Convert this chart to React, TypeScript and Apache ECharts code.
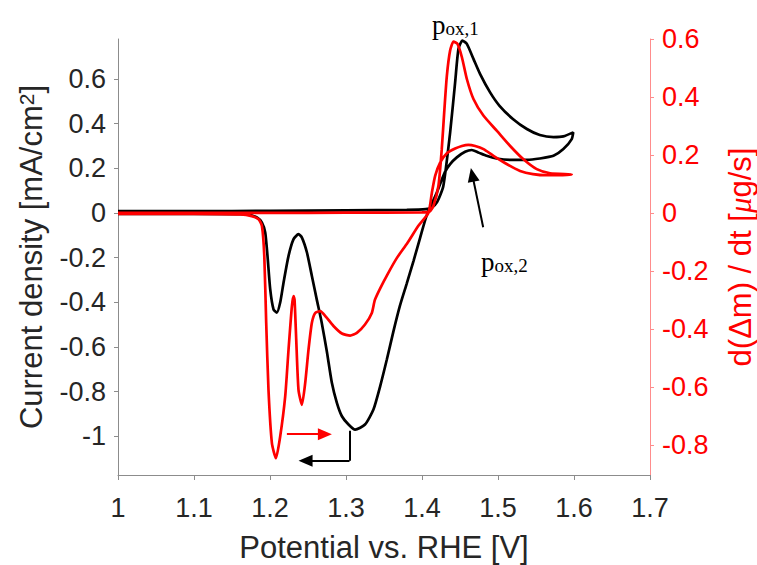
import React, { useEffect, useRef } from "react";
import * as echarts from "echarts";

// Potential (V vs RHE) and current density (mA/cm2) – black CV, forward sweep
const currentForward: [number, number][] = [
  [1.0, 0.008], [1.1, 0.008], [1.2, 0.01], [1.3, 0.012], [1.38, 0.014], [1.405, 0.017],
  [1.413, 0.025], [1.42, 0.05], [1.428, 0.12], [1.437, 0.36], [1.4436, 0.585], [1.448, 0.735],
  [1.4532, 0.772], [1.459, 0.757], [1.4677, 0.69], [1.4765, 0.622], [1.4896, 0.54], [1.502, 0.48],
  [1.52, 0.42], [1.538, 0.376], [1.555, 0.349], [1.573, 0.34], [1.586, 0.343], [1.599, 0.361],
];
// black CV, backward sweep
const currentBackward: [number, number][] = [
  [1.599, 0.361], [1.597, 0.331], [1.586, 0.286], [1.573, 0.256], [1.555, 0.244], [1.538, 0.238],
  [1.516, 0.238], [1.498, 0.244], [1.485, 0.256], [1.474, 0.271], [1.4655, 0.282], [1.4567, 0.274],
  [1.4458, 0.249], [1.437, 0.219], [1.43, 0.182], [1.4195, 0.092], [1.406, -0.013], [1.3976, -0.11],
  [1.3888, -0.215], [1.38, -0.315], [1.371, -0.415], [1.3624, -0.53], [1.3538, -0.655], [1.345, -0.775],
  [1.3361, -0.88], [1.325, -0.947], [1.312, -0.97], [1.3033, -0.947], [1.2946, -0.91], [1.288, -0.85],
  [1.2814, -0.76], [1.2748, -0.62], [1.268, -0.49], [1.2617, -0.39], [1.2551, -0.282], [1.2486, -0.177],
  [1.242, -0.11], [1.2375, -0.095], [1.231, -0.117], [1.2244, -0.192], [1.2178, -0.312], [1.2134, -0.401],
  [1.209, -0.446], [1.2046, -0.431], [1.2003, -0.342], [1.1967, -0.192], [1.1937, -0.087], [1.1894, -0.043],
  [1.1828, -0.02], [1.1696, -0.005], [1.1, -0.004], [1.0, -0.004],
];
// d(Δm)/dt (µg/s) – red, forward sweep
const massRateForward: [number, number][] = [
  [1.0, 0.0], [1.1, 0.0], [1.2, 0.0], [1.3, 0.001], [1.4, 0.002], [1.41, 0.005], [1.415, 0.024],
  [1.4216, 0.093], [1.426, 0.22], [1.4295, 0.358], [1.4327, 0.473], [1.437, 0.56], [1.4415, 0.591],
  [1.4467, 0.583], [1.4525, 0.537], [1.459, 0.462], [1.4677, 0.393], [1.481, 0.335], [1.4986, 0.283],
  [1.516, 0.231], [1.5335, 0.185], [1.551, 0.151], [1.5685, 0.137], [1.597, 0.133],
];
// red, backward sweep
const massRateBackward: [number, number][] = [
  [1.597, 0.133], [1.5817, 0.13], [1.564, 0.13], [1.546, 0.134], [1.529, 0.145], [1.512, 0.168],
  [1.494, 0.197], [1.481, 0.22], [1.47, 0.231], [1.461, 0.235], [1.4525, 0.231], [1.4436, 0.222],
  [1.4327, 0.206], [1.424, 0.174], [1.4173, 0.128], [1.413, 0.07], [1.4085, 0.001], [1.395, -0.045],
  [1.381, -0.103], [1.367, -0.155], [1.355, -0.21], [1.345, -0.26], [1.338, -0.3], [1.334, -0.345],
  [1.325, -0.385], [1.3143, -0.414], [1.3055, -0.423], [1.2946, -0.416], [1.2835, -0.39], [1.2748, -0.362],
  [1.266, -0.339], [1.2595, -0.345], [1.2551, -0.379], [1.2507, -0.471], [1.2463, -0.587], [1.242, -0.662],
  [1.2375, -0.61], [1.2345, -0.436], [1.2323, -0.299], [1.231, -0.287], [1.2288, -0.322], [1.2244, -0.471],
  [1.22, -0.633], [1.2134, -0.771], [1.2078, -0.846], [1.2025, -0.794], [1.198, -0.61], [1.195, -0.379],
  [1.1925, -0.149], [1.1894, -0.045], [1.185, -0.022], [1.176, -0.011], [1.161, -0.005], [1.1, -0.003],
  [1.0, -0.003],
];

const leftTicks = [-1, -0.8, -0.6, -0.4, -0.2, 0, 0.2, 0.4, 0.6];
const rightTicks = [-0.8, -0.6, -0.4, -0.2, 0, 0.2, 0.4, 0.6];

// annotation arrows (data coordinates)
const blackElbowDown: [number, number][] = [[1.3046, -0.975], [1.3046, -1.109]];
const blackElbowLeft: [number, number][] = [[1.3046, -1.109], [1.2468, -1.109]];
const peak2Arrow: [number, number][] = [[1.4805, -0.064], [1.4662, 0.171]];
const redArrow: [number, number][] = [[1.2222, -0.763], [1.2722, -0.763]];

const FONT = "'Liberation Sans', Arial, sans-serif";
const SERIF = "'Liberation Serif', 'Times New Roman', serif";
const TXT = "#262626";
const AX = "#8c8c8c";
const RED = "#ff0000";

const fmt = (v: number) => {
  const r = Math.round(v * 10) / 10;
  return r === 0 ? "0" : String(r);
};

export default function App() {
  const ref = useRef<HTMLDivElement>(null);
  useEffect(() => {
    document.body.style.margin = "0";
    const chart = echarts.init(ref.current!, null, { renderer: "svg" });
    const arrowLine = (pts: [number, number][], head: boolean) => [
      { coord: pts[0], symbol: "none" },
      { coord: pts[1], symbol: head ? "triangle" : "none", symbolSize: [12, 14] },
    ];
    chart.setOption({
      animation: false,
      backgroundColor: "#ffffff",
      grid: { left: 118, right: 107, top: 39, bottom: 90, containLabel: false, outerBoundsMode: "none" },
      xAxis: {
        type: "value",
        min: 1,
        max: 1.7,
        interval: 0.1,
        axisLine: { show: true, onZero: false, lineStyle: { color: AX, width: 1 } },
        axisTick: { show: true, length: 5, lineStyle: { color: AX } },
        axisLabel: { fontSize: 27, color: TXT, fontFamily: FONT, margin: 19, formatter: fmt },
        splitLine: { show: false },
        name: "Potential vs. RHE [V]",
        nameLocation: "middle",
        nameGap: 57,
        nameMoveOverlap: false,
        nameTextStyle: { fontSize: 31, color: TXT, fontFamily: FONT },
      },
      yAxis: [
        {
          type: "value",
          position: "left",
          min: -1.173,
          max: 0.779,
          axisLine: { show: true, onZero: false, lineStyle: { color: AX, width: 1 } },
          axisTick: { show: true, length: 4, customValues: leftTicks, lineStyle: { color: AX } },
          axisLabel: { fontSize: 27, color: TXT, fontFamily: FONT, margin: 12, customValues: leftTicks, formatter: fmt },
          splitLine: { show: false },
          name: "Current density [mA/cm{sup|2}]",
          nameLocation: "middle",
          nameRotate: 90,
          nameGap: 71,
          nameMoveOverlap: false,
          nameTextStyle: {
            fontSize: 31,
            color: TXT,
            fontFamily: FONT,
            rich: { sup: { fontSize: 21, color: TXT, fontFamily: FONT, verticalAlign: "top" } },
          },
        },
        {
          type: "value",
          position: "right",
          min: -0.904,
          max: 0.6,
          axisLine: { show: true, onZero: false, lineStyle: { color: "#ff8c8c", width: 1 } },
          axisTick: { show: true, length: 4, customValues: rightTicks, lineStyle: { color: "#ff8c8c" } },
          axisLabel: { fontSize: 27, color: RED, fontFamily: FONT, margin: 12, customValues: rightTicks, formatter: fmt },
          splitLine: { show: false },
          name: "d(Δm) / dt [{it|μ}g/s]",
          nameLocation: "middle",
          nameRotate: 90,
          nameGap: 75,
          nameMoveOverlap: false,
          nameTextStyle: {
            fontSize: 31,
            color: RED,
            fontFamily: FONT,
            rich: { it: { fontSize: 31, color: RED, fontFamily: SERIF, fontStyle: "italic" } },
          },
        },
      ],
      series: [
        {
          type: "line",
          yAxisIndex: 0,
          data: [...currentForward, ...currentBackward.slice(1)],
          symbol: "none",
          smooth: 0.2,
          lineStyle: { color: "#000000", width: 2.7 },
          markLine: {
            silent: true,
            animation: false,
            label: { show: false },
            lineStyle: { color: "#000000", width: 2, type: "solid" },
            emphasis: { disabled: true },
            data: [arrowLine(blackElbowDown, false), arrowLine(blackElbowLeft, true), arrowLine(peak2Arrow, true)],
          },
        },
        {
          type: "line",
          yAxisIndex: 1,
          data: [...massRateForward, ...massRateBackward.slice(1)],
          symbol: "none",
          smooth: 0.2,
          lineStyle: { color: RED, width: 2.7 },
          markLine: {
            silent: true,
            animation: false,
            label: { show: false },
            lineStyle: { color: RED, width: 2, type: "solid" },
            emphasis: { disabled: true },
            data: [arrowLine(redArrow, true)],
          },
        },
      ],
      graphic: [
        {
          type: "text",
          x: 432,
          y: 38,
          style: {
            text: "{p|p}{s|ox,1}",
            align: "left",
            verticalAlign: "bottom",
            rich: {
              p: { fontSize: 27, fontFamily: SERIF, fill: "#000", verticalAlign: "bottom", lineHeight: 30 },
              s: { fontSize: 19, fontFamily: SERIF, fill: "#000", verticalAlign: "bottom", lineHeight: 30 },
            },
          },
        },
        {
          type: "text",
          x: 481,
          y: 275,
          style: {
            text: "{p|p}{s|ox,2}",
            align: "left",
            verticalAlign: "bottom",
            rich: {
              p: { fontSize: 27, fontFamily: SERIF, fill: "#000", verticalAlign: "bottom", lineHeight: 30 },
              s: { fontSize: 19, fontFamily: SERIF, fill: "#000", verticalAlign: "bottom", lineHeight: 30 },
            },
          },
        },
      ],
    });
    return () => chart.dispose();
  }, []);
  return <div ref={ref} style={{ position: "absolute", left: 0, top: 0, width: 757, height: 565 }} />;
}
